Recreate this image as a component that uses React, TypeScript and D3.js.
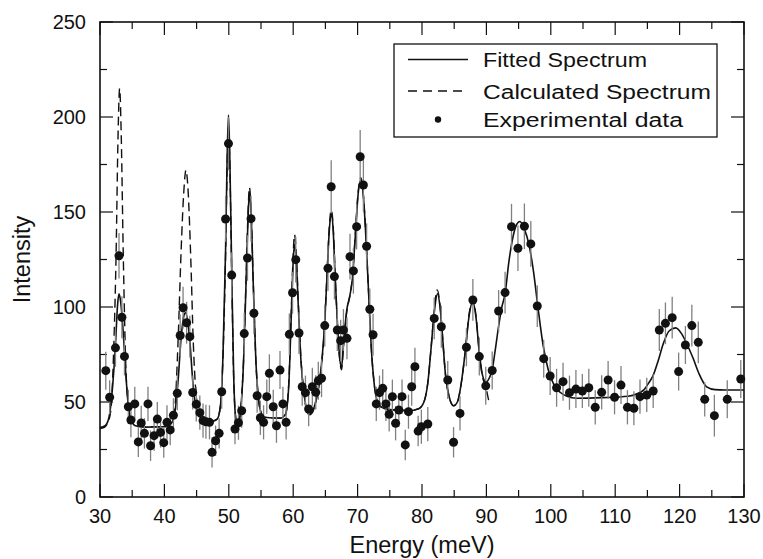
import React from 'react';
import * as d3 from 'd3';

// energy (meV), intensity, error
const experimental = [
  [30.9, 66.5, 10], [31.5, 52.5, 9], [32.4, 78.5, 10], [32.95, 127, 12], [33.4, 94.6, 11], [33.8, 74, 10],
  [34.4, 47.5, 9], [34.8, 40.5, 9], [35.4, 49, 9], [35.95, 29, 8], [36.4, 39, 9], [36.9, 33.5, 8],
  [37.45, 49, 9], [37.85, 27, 8], [38.4, 32.3, 8], [38.9, 41, 9], [39.4, 34, 8], [39.9, 28.6, 8],
  [40.4, 39.3, 9], [40.9, 35.3, 8], [41.4, 43, 9], [42.0, 54.6, 9], [42.45, 85, 11], [42.9, 99.6, 11],
  [43.45, 91.7, 11], [43.95, 84.4, 11], [44.4, 55, 9], [44.95, 48.8, 9], [45.5, 44.4, 9], [46.0, 40.2, 9],
  [46.45, 39.6, 9], [47.0, 39.3, 9], [47.4, 23.5, 8], [47.95, 29.6, 8], [48.5, 33.5, 8], [48.9, 55.4, 9],
  [49.5, 146.3, 12], [49.95, 186, 14], [50.45, 116.8, 12], [50.96, 35.8, 8], [51.5, 39.1, 9], [52.0, 45.4, 9],
  [52.4, 86, 11], [52.9, 125.8, 12], [53.45, 146.5, 12], [53.9, 96.7, 11], [54.4, 53.3, 9], [54.9, 41.7, 9],
  [55.4, 39.3, 9], [55.9, 52.8, 9], [56.3, 65.1, 10], [56.9, 47.5, 9], [57.4, 37.5, 9], [57.95, 66.8, 10],
  [58.4, 49, 9], [58.9, 39.3, 9], [59.4, 85.6, 11], [59.9, 107.5, 11], [60.4, 124.9, 12], [60.9, 86.3, 11],
  [61.4, 58, 10], [61.9, 54.9, 9], [62.4, 46.3, 9], [62.97, 58, 10], [63.5, 55.1, 9], [63.9, 61.2, 10],
  [64.4, 62.5, 10], [64.9, 90.2, 11], [65.4, 120.4, 12], [65.9, 163.3, 14], [66.4, 116, 12], [66.85, 87.9, 11],
  [67.37, 82.3, 11], [67.8, 87.9, 11], [68.35, 83.5, 11], [68.82, 126.5, 12], [69.35, 119, 12], [69.85, 142.3, 12],
  [70.4, 179.1, 14], [70.9, 164.2, 14], [71.4, 132, 12], [71.9, 98.8, 11], [72.4, 85.4, 11], [72.9, 49, 9],
  [73.4, 54.9, 9], [73.9, 57.2, 10], [74.4, 49, 9], [74.9, 43.5, 9], [75.4, 52.8, 9], [75.9, 38.8, 9],
  [76.4, 45.8, 9], [76.9, 52.8, 9], [77.4, 27.4, 8], [77.9, 44.9, 9], [78.4, 58, 10], [78.9, 68.6, 10],
  [79.4, 34.7, 8], [79.9, 37, 9], [80.9, 38.4, 9], [81.9, 94, 11], [83.0, 89.6, 11], [84.0, 61.6, 10],
  [84.9, 28.8, 8], [85.9, 44, 9], [86.9, 78.8, 10], [87.9, 103.7, 11], [88.9, 73.9, 10], [89.9, 58.5, 10],
  [90.9, 66.6, 10], [91.9, 97.9, 11], [92.9, 107.6, 11], [93.9, 142.3, 12], [94.9, 130.9, 12], [95.9, 142.5, 12],
  [96.9, 133.2, 12], [97.9, 100.5, 11], [98.9, 72.8, 10], [99.9, 63.7, 10], [100.9, 57.5, 10], [101.9, 60.7, 10],
  [102.9, 54.9, 9], [103.9, 56.8, 10], [104.9, 55.8, 9], [105.9, 57.5, 10], [106.9, 47.2, 9], [107.9, 55.1, 9],
  [108.9, 61.6, 10], [109.9, 52.5, 9], [110.9, 58.9, 10], [111.9, 47.2, 9], [112.9, 46.7, 9], [113.85, 52.8, 9],
  [114.9, 53.7, 9], [115.9, 55.8, 9], [116.85, 87.9, 11], [117.8, 91.4, 11], [118.85, 94.4, 11], [119.85, 66, 10],
  [120.9, 80, 10], [121.9, 90.2, 11], [122.9, 81.4, 11], [123.9, 51.4, 9], [125.4, 42.8, 11], [127.4, 51.4, 10],
  [129.5, 62.1, 10],
];

const fitted = [
  [30.0, 36.5], [30.8, 37.5], [31.4, 42], [31.9, 56], [32.4, 80], [32.75, 102], [32.95, 107], [33.2, 103],
  [33.6, 87], [34.0, 65], [34.4, 48], [34.9, 40], [35.5, 37.5], [37, 36.8], [40, 37], [41, 38.5], [41.6, 44],
  [42.1, 60], [42.6, 84], [43.0, 95], [43.25, 97], [43.6, 93], [44.0, 80], [44.4, 61], [44.8, 49], [45.3, 43],
  [46, 40.5], [47.5, 40], [48.2, 41], [48.7, 48], [49.1, 75], [49.5, 130], [49.75, 180], [49.95, 201],
  [50.15, 180], [50.45, 120], [50.75, 65], [51.0, 44], [51.3, 38], [51.6, 40], [51.9, 48], [52.3, 72],
  [52.7, 115], [53.0, 148], [53.2, 160], [53.45, 150], [53.8, 112], [54.2, 72], [54.6, 52], [55.0, 44.5],
  [55.5, 42], [58, 41.5], [58.8, 43.5], [59.3, 58], [59.7, 95], [60.0, 124], [60.2, 133], [60.45, 126],
  [60.8, 100], [61.2, 72], [61.7, 54], [62.4, 43.5], [62.9, 44.5], [63.4, 49], [63.9, 57], [64.4, 70],
  [64.9, 92], [65.3, 120], [65.6, 140], [65.9, 149], [66.2, 141], [66.5, 117], [66.9, 89], [67.2, 74],
  [67.5, 68], [67.8, 80], [68.3, 98], [68.8, 106], [69.2, 115], [69.6, 135], [70.1, 160], [70.5, 167],
  [70.9, 158], [71.3, 136], [71.7, 108], [72.1, 80], [72.5, 62], [73.0, 51], [73.6, 47.5], [75, 46],
  [78, 45.5], [79.5, 46.5], [80.3, 50], [80.9, 60], [81.4, 78], [81.9, 97], [82.4, 107], [82.8, 100],
  [83.2, 84], [83.6, 66], [84.2, 53], [84.9, 48], [85.5, 50], [86.1, 60], [86.7, 76], [87.3, 95],
  [87.9, 103], [88.4, 94], [88.9, 76], [89.4, 64], [89.95, 60.5], [90.5, 63], [90.9, 67], [91.4, 78],
  [91.9, 90], [92.4, 100], [92.9, 107], [93.5, 124], [94.2, 138], [94.8, 144], [95.2, 145], [95.9, 141],
  [96.6, 133], [97.3, 119], [98.0, 100], [98.8, 80], [99.6, 67], [100.5, 59], [101.5, 55], [102.5, 53],
  [104, 52], [108, 52.3], [112, 53], [113.5, 54.5], [114.5, 56.5], [115.2, 60], [115.9, 64], [116.7, 72],
  [117.5, 81], [118.4, 87.5], [119.4, 89], [120.3, 86], [121.2, 80], [122.1, 73], [123.0, 65], [124.2, 58],
  [125.5, 56.5], [127, 56.3], [130, 56.3],
];

const calculated = [
  [30.0, 36], [30.6, 36.5], [31.2, 39], [31.7, 46], [32.1, 75], [32.5, 128], [32.8, 190], [33.05, 215],
  [33.3, 190], [33.6, 130], [34.0, 70], [34.4, 48], [34.9, 40], [35.5, 37.5], [37, 37], [40, 37],
  [41, 38.5], [41.6, 46], [42.1, 80], [42.6, 130], [43.0, 160], [43.35, 172], [43.7, 160], [44.1, 125],
  [44.5, 80], [44.9, 55], [45.4, 45], [46.0, 41], [47.5, 40], [48.2, 41], [48.7, 48], [49.1, 74],
  [49.5, 127], [49.75, 175], [49.95, 195], [50.15, 176], [50.45, 118], [50.75, 64], [51.0, 44], [51.3, 38],
  [51.6, 40], [51.9, 48], [52.3, 73], [52.7, 117], [53.0, 151], [53.2, 163], [53.45, 152], [53.8, 113],
  [54.2, 72], [54.6, 52], [55.0, 44.5], [55.5, 42], [58, 41.5], [58.8, 43.5], [59.3, 59], [59.7, 98],
  [60.0, 128], [60.2, 138], [60.45, 130], [60.8, 102], [61.2, 73], [61.7, 54], [62.4, 43], [62.9, 44],
  [63.4, 48.5], [63.9, 56.5], [64.4, 69], [64.9, 92], [65.3, 121], [65.6, 142], [65.9, 151], [66.2, 143],
  [66.5, 118], [66.9, 89], [67.2, 73], [67.5, 67], [67.8, 79], [68.3, 97], [68.8, 106], [69.2, 116],
  [69.6, 136], [70.1, 161], [70.5, 168], [70.9, 159], [71.3, 137], [71.7, 108], [72.1, 80], [72.5, 62],
  [73.0, 51], [73.6, 47.5], [75, 46], [78, 45.5], [79.5, 46.5], [80.3, 50], [80.9, 60], [81.4, 78],
  [81.9, 98], [82.35, 109], [82.8, 101], [83.2, 84], [83.6, 66], [84.2, 53], [84.9, 48], [85.5, 50],
  [86.1, 60], [86.7, 76], [87.3, 96], [87.9, 104], [88.4, 95], [88.9, 76], [89.4, 63], [89.8, 59],
  [90.1, 55], [90.35, 51], [90.55, 48.5],
];

const xTicks = [30, 40, 50, 60, 70, 80, 90, 100, 110, 120, 130];
const xMinor = [35, 45, 55, 65, 75, 85, 95, 105, 115, 125];
const yTicks = [0, 50, 100, 150, 200, 250];
const yMinor = [25, 75, 125, 175, 225];

const W = 763;
const H = 559;
const left = 100, right = 744, top = 22, bottom = 497;
const font = 'Liberation Sans, Arial, Helvetica, sans-serif';

export default function App() {
  const x = d3.scaleLinear().domain([30, 130]).range([left, right]);
  const y = d3.scaleLinear().domain([0, 250]).range([bottom, top]);

  const line = d3.line<number[]>()
    .x(d => x(d[0]))
    .y(d => y(d[1]))
    .curve(d3.curveMonotoneX);

  const major = 13, minor = 7;

  return (
    <svg width={W} height={H} style={{ position: 'absolute', left: 0, top: 0 }} fontFamily={font}>
      <rect x={0} y={0} width={W} height={H} fill="white" />

      {/* ticks on all four sides */}
      <g stroke="#111" strokeWidth={1.2}>
        {xTicks.map(t => (
          <g key={'xt' + t}>
            <line x1={x(t)} x2={x(t)} y1={bottom} y2={bottom - major} />
            <line x1={x(t)} x2={x(t)} y1={top} y2={top + major} />
          </g>
        ))}
        {xMinor.map(t => (
          <g key={'xm' + t}>
            <line x1={x(t)} x2={x(t)} y1={bottom} y2={bottom - minor} />
            <line x1={x(t)} x2={x(t)} y1={top} y2={top + minor} />
          </g>
        ))}
        {yTicks.map(t => (
          <g key={'yt' + t}>
            <line x1={left} x2={left + major} y1={y(t)} y2={y(t)} />
            <line x1={right} x2={right - major} y1={y(t)} y2={y(t)} />
          </g>
        ))}
        {yMinor.map(t => (
          <g key={'ym' + t}>
            <line x1={left} x2={left + minor} y1={y(t)} y2={y(t)} />
            <line x1={right} x2={right - minor} y1={y(t)} y2={y(t)} />
          </g>
        ))}
      </g>

      <g fontSize={20} fill="#111">
        {xTicks.map(t => (
          <text key={'xl' + t} x={x(t)} y={bottom + 26} textAnchor="middle">{t}</text>
        ))}
        {yTicks.map(t => (
          <text key={'yl' + t} x={left - 14} y={y(t) + 7} textAnchor="end">{t}</text>
        ))}
      </g>

      <text x={(left + right) / 2} y={553} textAnchor="middle" fontSize={23.5} fill="#111">Energy (meV)</text>
      <text transform={`translate(30,${(top + bottom) / 2}) rotate(-90)`} textAnchor="middle" fontSize={23.5} fill="#111">Intensity</text>

      {/* curves */}
      <path d={line(calculated) || ''} fill="none" stroke="#111" strokeWidth={1.4} strokeDasharray="9,5" />
      <path d={line(fitted) || ''} fill="none" stroke="#111" strokeWidth={1.6} />

      {/* error bars and points */}
      <g stroke="#808080" strokeWidth={1.3}>
        {experimental.map((d, i) => (
          <line key={'e' + i} x1={x(d[0])} x2={x(d[0])} y1={y(d[1] - d[2])} y2={y(d[1] + d[2])} />
        ))}
      </g>
      <g fill="#111">
        {experimental.map((d, i) => (
          <circle key={'p' + i} cx={x(d[0])} cy={y(d[1])} r={4.5} />
        ))}
      </g>

      <rect x={left} y={top} width={right - left} height={bottom - top} fill="none" stroke="#111" strokeWidth={1.6} />

      {/* legend */}
      <g>
        <rect x={394} y={44} width={323} height={93} fill="white" stroke="#111" strokeWidth={1.3} />
        <line x1={408} x2={468} y1={59.5} y2={59.5} stroke="#111" strokeWidth={1.6} />
        <line x1={408} x2={468} y1={91} y2={91} stroke="#111" strokeWidth={1.4} strokeDasharray="9,6" />
        <circle cx={438} cy={119.5} r={3.2} fill="#111" />
        <g fontSize={20} fill="#111">
          <text x={483} y={67} textLength={164} lengthAdjust="spacingAndGlyphs">Fitted Spectrum</text>
          <text x={483} y={98.5} textLength={228} lengthAdjust="spacingAndGlyphs">Calculated Spectrum</text>
          <text x={483} y={127} textLength={200} lengthAdjust="spacingAndGlyphs">Experimental data</text>
        </g>
      </g>
    </svg>
  );
}
